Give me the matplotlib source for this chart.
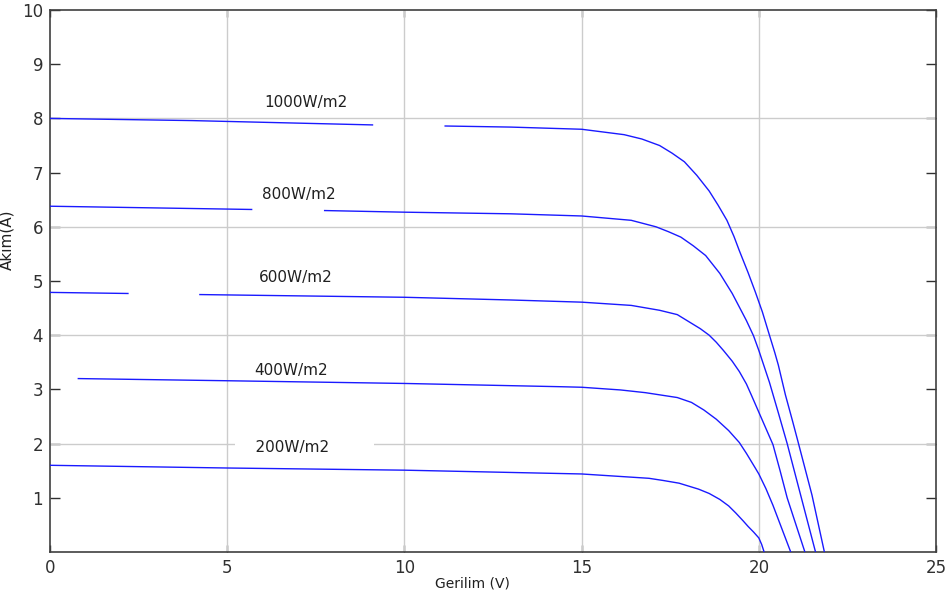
import numpy as np
import matplotlib
matplotlib.use("Agg")
import matplotlib.pyplot as plt

nan = np.nan

# I-V curves (volts, amps); nan marks a gap in the drawn line
v_1000 = [0, 4, 9.1, nan, 11.15, 13, 15, 16.2, 16.7, 17.2, 17.55, 17.9, 18.25, 18.6, 18.85, 19.1, 19.3,
          19.45, 19.7, 19.9, 20.1, 20.3, 20.45, 20.55, 20.75, 20.95, 21.1, 21.3, 21.5, 21.7, 21.85]
i_1000 = [8.0, 7.96, 7.88, nan, 7.86, 7.84, 7.8, 7.7, 7.62, 7.5, 7.36, 7.2, 6.95, 6.66, 6.4, 6.12, 5.82,
          5.56, 5.15, 4.8, 4.43, 4.0, 3.68, 3.45, 2.9, 2.42, 2.05, 1.55, 1.05, 0.45, 0]

v_800 = [0, 5.69, nan, 7.75, 10, 13, 15, 16.4, 17.1, 17.45, 17.8, 18.15, 18.5, 18.9, 19.25, 19.45, 19.65,
         19.85, 20.0, 20.3, 20.55, 20.8, 21.0, 21.2, 21.4, 21.6]
i_800 = [6.38, 6.32, nan, 6.3, 6.27, 6.24, 6.2, 6.12, 6.0, 5.91, 5.81, 5.65, 5.47, 5.14, 4.77, 4.52, 4.27,
         3.99, 3.72, 3.13, 2.57, 2.0, 1.5, 1.0, 0.5, 0]

v_600 = [0, 2.2, nan, 4.23, 10, 13, 15, 16.4, 17.2, 17.7, 18.1, 18.35, 18.6, 18.8, 19.0, 19.25, 19.45,
         19.65, 19.8, 20.0, 20.2, 20.4, 20.6, 20.8, 21.05, 21.3]
i_600 = [4.79, 4.77, nan, 4.75, 4.7, 4.65, 4.61, 4.55, 4.46, 4.38, 4.22, 4.12, 4.0, 3.87, 3.72, 3.52, 3.33,
         3.1, 2.88, 2.58, 2.28, 1.98, 1.5, 1.0, 0.5, 0]

v_400 = [0.8, 5, 10, 14.4, 15, 16.1, 16.8, 17.7, 18.1, 18.45, 18.8, 19.15, 19.45, 19.65, 19.9, 20.0,
         20.2, 20.4, 20.65, 20.9]
i_400 = [3.2, 3.16, 3.11, 3.05, 3.04, 2.99, 2.94, 2.85, 2.76, 2.62, 2.45, 2.24, 2.02, 1.82, 1.55, 1.44,
         1.17, 0.86, 0.43, 0]

v_200 = [0, 5, 10, 15, 16.9, 17.3, 17.75, 18.3, 18.6, 18.9, 19.15, 19.35, 19.55, 19.7, 19.85, 20.0, 20.08, 20.15]
i_200 = [1.6, 1.55, 1.51, 1.44, 1.36, 1.32, 1.27, 1.16, 1.08, 0.97, 0.85, 0.72, 0.58, 0.47, 0.37, 0.26, 0.14, 0]

labels = ['1000W/m2', '800W/m2', '600W/m2', '400W/m2', '200W/m2']
label_v = [6.06, 5.97, 5.89, 5.77, 5.77]
label_i = [8.29, 6.59, 5.06, 3.35, 1.93]

xticks = [0, 5, 10, 15, 20, 25]
yticks = [1, 2, 3, 4, 5, 6, 7, 8, 9, 10]

fig = plt.figure(figsize=(9.5, 5.96), dpi=100)
ax = fig.add_axes([0.0526, 0.0738, 0.9327, 0.9094])

curves = [(v_1000, i_1000), (v_800, i_800), (v_600, i_600), (v_400, i_400), (v_200, i_200)]
for v, i in curves:
    ax.plot(v, i, color='#1a1aff', lw=1.0, zorder=3)

# curve labels; the 200 W/m2 one hides the grid line behind it
for k, (txt, x, y) in enumerate(zip(labels, label_v, label_i)):
    if k == 4:
        ax.text(x - 0.52, y, '    ' + txt + '         ', fontsize=11, va='center', ha='left',
                color='#202020', zorder=2,
                bbox=dict(facecolor='white', edgecolor='none', pad=0.5))
    else:
        ax.text(x, y, txt, fontsize=11, va='center', ha='left', color='#202020', zorder=4)

ax.set_xlim(0, 25)
ax.set_ylim(0, 10)
ax.set_xticks(xticks)
ax.set_yticks(yticks)

ax.set_axisbelow(True)
ax.grid(False)
for x in [5, 10, 15, 20]:
    ax.axvline(x, color='#cccccc', lw=1.0, zorder=1)
for y in [2, 4, 6, 8]:
    ax.axhline(y, color='#cccccc', lw=1.0, zorder=1)

ax.tick_params(axis='both', direction='in', top=True, right=True,
               labelsize=12, colors='#303030', width=1.0)
ax.tick_params(axis='y', length=7, pad=5)
ax.tick_params(axis='x', length=5, pad=5)
for s in ax.spines.values():
    s.set_color('#404040')
    s.set_linewidth(1.2)

ax.set_xlabel('Gerilim (V)', fontsize=10, color='#202020')
ax.xaxis.set_label_coords(0.477, -0.045)
ax.set_ylabel('Akım(A)', fontsize=11, color='#202020')
ax.yaxis.set_label_coords(-0.04, 0.576)

fig.savefig('out.png', dpi=100)
